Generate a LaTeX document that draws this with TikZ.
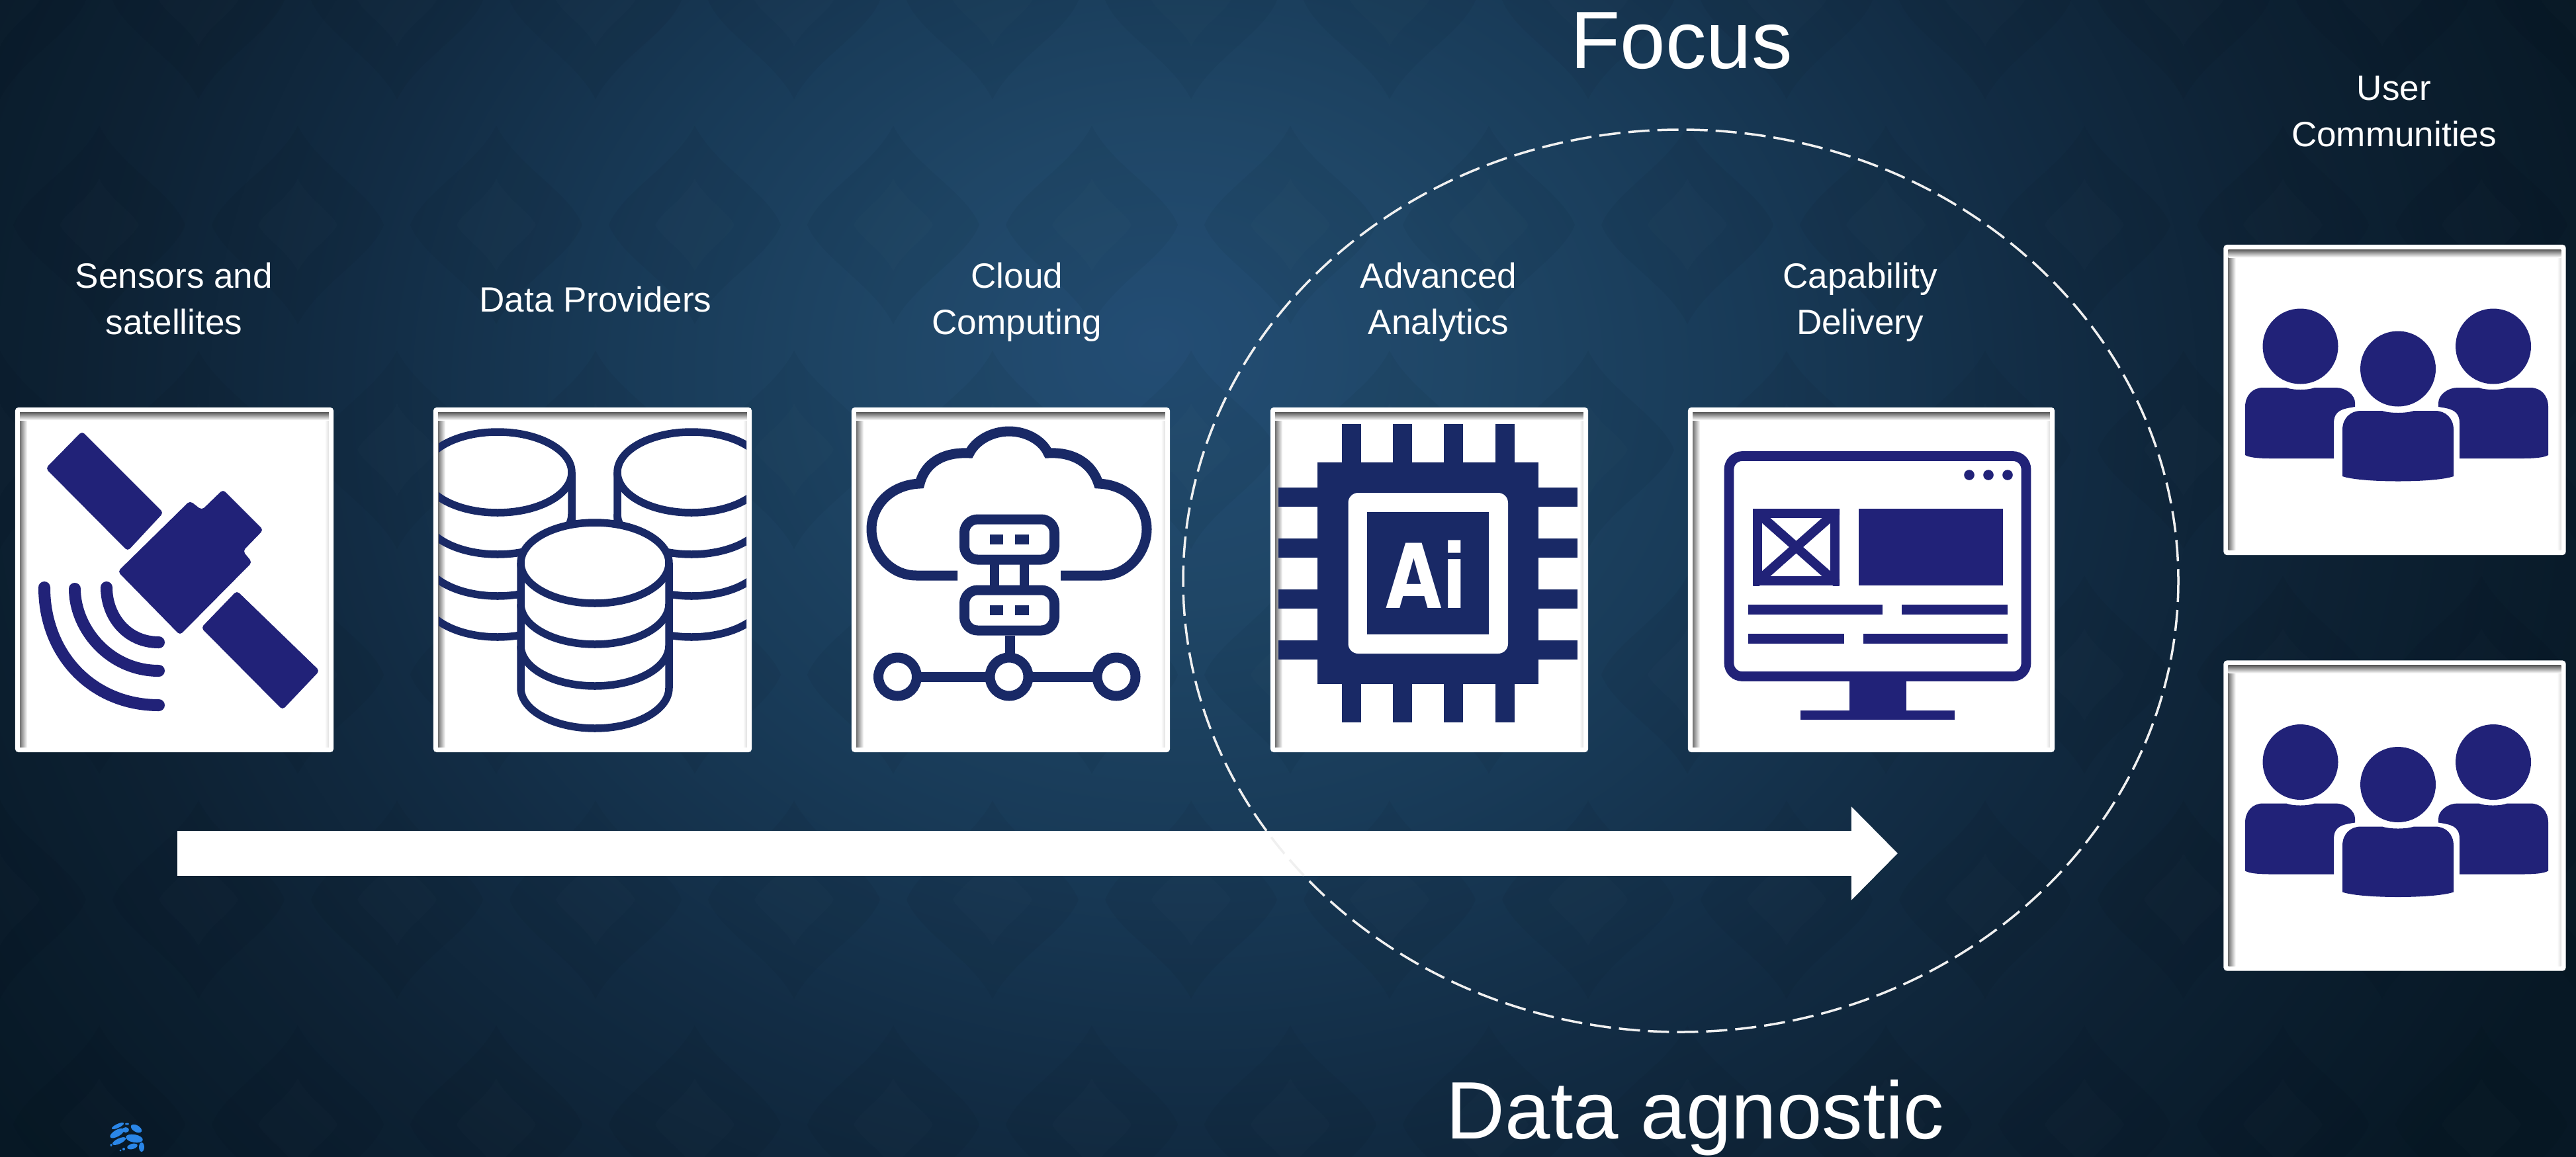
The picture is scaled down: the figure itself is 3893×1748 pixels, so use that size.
\documentclass[tikz,border=0pt]{standalone}
\usepackage{fontspec}
\setmainfont{Liberation Sans}
\newfontfamily\chipfont{DejaVu Sans}
\usepackage{xcolor}
\usetikzlibrary{arrows.meta}
\tikzset{>=latex}
\definecolor{navycol}{HTML}{192966}
\definecolor{indigocol}{HTML}{212278}
\definecolor{ringcol}{HTML}{F0F0F0}
\definecolor{logocol}{HTML}{2A86E8}
\definecolor{bgA}{HTML}{234D74}
\definecolor{bgB}{HTML}{1F4666}
\definecolor{bgC}{HTML}{183A57}
\definecolor{bgD}{HTML}{122C44}
\definecolor{bgE}{HTML}{0D2133}
\definecolor{bgF}{HTML}{071825}
\definecolor{bgG}{HTML}{051420}
\pgfdeclareradialshading{slidebg}{\pgfpoint{-2.3bp}{3.9bp}}{%
  color(0bp)=(bgA);color(5bp)=(bgB);color(10bp)=(bgC);%
  color(15bp)=(bgD);color(20bp)=(bgE);color(26bp)=(bgF);%
  color(50bp)=(bgG)}
\tikzstyle{iconcard}=[draw=none,fill=white,rounded corners=0.05cm,inner sep=0pt,minimum height=5.21cm]
\tikzstyle{cardlabel}=[white,align=center,inner sep=0pt,font=\fontsize{15.1}{19.9}\selectfont]
\tikzstyle{bigcaption}=[white,inner sep=0pt,font=\fontsize{35}{40}\selectfont]
\tikzstyle{dbline}=[navycol,line width=0.115cm]
\tikzstyle{cloudline}=[navycol,line width=0.15cm]
\tikzstyle{signal}=[indigocol,line width=0.18cm,line cap=round]
\tikzstyle{flowarrow}=[white,line width=0.68cm,-{Triangle[length=0.7cm,width=1.37cm]}]
\tikzstyle{focusring}=[ringcol,line width=0.035cm,dash pattern=on 0.32cm off 0.12cm]
\begin{document}
\begin{tikzpicture}[x=0.01cm,y=-0.01cm]
  \useasboundingbox (0,0) rectangle (3893,1748);
  \begin{scope}
    \clip (0,0) rectangle (3893,1748);
    \shade[shading=slidebg] (-200,-1000) rectangle (4093,2600);
    % faint wallpaper
    \foreach \row in {0,...,5} {
      \foreach \col in {0,...,13} {
        \pgfmathsetmacro{\mx}{\col*300+mod(\row,2)*150}
        \pgfmathsetmacro{\my}{\row*170*2}
        \begin{scope}[shift={(\mx,\my)}]
          \fill[black,opacity=0.04] (0,-150) .. controls (30,-90) and (110,-50) .. (130,0)
             .. controls (110,50) and (30,90) .. (0,150) .. controls (-30,90) and (-110,50) .. (-130,0)
             .. controls (-110,-50) and (-30,-90) .. (0,-150);
          \fill[white,opacity=0.012] (0,-70) .. controls (15,-40) and (50,-20) .. (60,0)
             .. controls (50,20) and (15,40) .. (0,70) .. controls (-15,40) and (-50,20) .. (-60,0)
             .. controls (-50,-20) and (-15,-40) .. (0,-70);
        \end{scope}
      }
    }
  \end{scope}

  % the cards
  \node[iconcard,minimum width=4.81cm] (satcard) at (263.5,876.5) {};
  \node[iconcard,minimum width=4.81cm] (dbcard) at (895.5,876.5) {};
  \node[iconcard,minimum width=4.81cm] (cloudcard) at (1527.5,876.5) {};
  \node[iconcard,minimum width=4.80cm] (aicard) at (2160,876.5) {};
  \node[iconcard,minimum width=5.54cm] (webcard) at (2828,876.5) {};
  \node[iconcard,minimum width=5.17cm,minimum height=4.69cm] (usercard) at (3619,604.5) {};
  \node[iconcard,minimum width=5.17cm,minimum height=4.69cm] (usercardb) at (3619,1233) {};
  \foreach \card in {satcard,dbcard,cloudcard,aicard,webcard,usercard,usercardb} {
    \shade[left color=black!55,right color=white] ([shift={(8,8)}]\card.north west) rectangle ([shift={(19,-8)}]\card.south west);
    \shade[left color=white,right color=black!12] ([shift={(-14,8)}]\card.north east) rectangle ([shift={(-8,-8)}]\card.south east);
    \shade[top color=black!65,bottom color=white] ([shift={(8,8)}]\card.north west) rectangle ([shift={(-8,20)}]\card.north east);
  }

  % satellite
  \begin{scope}[indigocol,rounded corners=0.05cm]
    \fill (124,652) -- (247,775) -- (193,833) -- (69,708) -- cycle;
    \fill (287,757) -- (305,771) -- (337,740) -- (398,801) -- (367,833) -- (381,850) -- (272,960) -- (178,864) -- cycle;
    \fill (358,893) -- (483,1014) -- (427,1073) -- (304,949) -- cycle;
  \end{scope}
  \draw[signal] (67,888) .. controls (67,990) and (140,1066) .. (240,1066);
  \draw[signal] (113,890) .. controls (113,950) and (165,1014) .. (240,1014);
  \draw[signal] (161,888) .. controls (161,930) and (190,971) .. (240,971);

  % databases
  \begin{scope}
    \clip (663,625) rectangle (1128,1130);
    \foreach \cx in {752,1045} {
      \draw[dbline] (\cx,714) ellipse (112 and 61);
      \draw[dbline] (\cx-112,714) -- (\cx-112,902) arc (180:0:112 and 61) -- (\cx+112,714);
      \foreach \yc in {777,840} {
        \draw[dbline] (\cx-112,\yc) arc (180:0:112 and 61);
      }
    }
    \fill[white] (787,851) -- (787,1040) arc (180:0:112 and 61) -- (1011,851) arc (360:180:112 and 61) -- cycle;
    \draw[dbline] (899,851) ellipse (112 and 61);
    \draw[dbline] (787,851) -- (787,1040) arc (180:0:112 and 61) -- (1011,851);
    \foreach \yc in {913,976} {
      \draw[dbline] (787,\yc) arc (180:0:112 and 61);
    }
  \end{scope}

  % cloud with servers
  \draw[cloudline] (1447,870) -- (1385,870) .. controls (1345,870) and (1317,835) .. (1317,800)
     .. controls (1317,765) and (1345,733) .. (1390,731) .. controls (1398,700) and (1425,683) .. (1465,685)
     .. controls (1475,665) and (1500,652) .. (1525,652) .. controls (1550,652) and (1575,665) .. (1584,685)
     .. controls (1622,683) and (1650,700) .. (1660,731) .. controls (1705,733) and (1733,765) .. (1733,800)
     .. controls (1733,835) and (1705,870) .. (1665,870) -- (1603,870);
  \foreach \sy in {785,892} {
    \draw[cloudline,rounded corners=0.2cm] (1457.5,\sy) rectangle (1593.5,\sy+61);
    \fill[navycol] (1496,\sy+23) rectangle (1516,\sy+38);
    \fill[navycol] (1534,\sy+23) rectangle (1555,\sy+38);
  }
  \fill[navycol] (1496,853) rectangle (1509.5,885);
  \fill[navycol] (1541,853) rectangle (1555,885);
  \draw[cloudline] (1526,961) -- (1526,995);
  \foreach \rx in {1356.5,1525,1687} {
    \draw[cloudline] (\rx,1023) circle (29);
  }
  \draw[cloudline] (1385.5,1023) -- (1496,1023) (1554,1023) -- (1658,1023);

  % chip
  \fill[navycol] (1991,699) rectangle (2325,1033.5);
  \foreach \px in {2027.5,2105,2182,2259.5} {
    \fill[navycol] (\px,640.5) rectangle (\px+29,699);
    \fill[navycol] (\px,1033.5) rectangle (\px+29,1092);
  }
  \foreach \py in {736.5,813.5,891,968} {
    \fill[navycol] (1932,\py) rectangle (1991,\py+29);
    \fill[navycol] (2325,\py) rectangle (2384,\py+29);
  }
  \fill[white,rounded corners=0.15cm] (2037.5,745) rectangle (2279,988);
  \fill[navycol] (2066,774) rectangle (2250,959);
  \node[white,inner sep=0pt,xscale=0.81,font=\chipfont\fontsize{38.4}{39}\selectfont\bfseries] (aimark) at (2156,868) {Ai};

  % monitor
  \draw[indigocol,line width=0.147cm,rounded corners=0.2cm] (2613,689.5) rectangle (3062,1022.5);
  \foreach \dotx in {2976,3005,3034} {
    \fill[indigocol] (\dotx,718) circle (7.8);
  }
  \begin{scope}
    \clip (2649,769) rectangle (2780,885);
    \draw[indigocol,line width=0.14cm] (2656,776) rectangle (2773,878);
    \draw[indigocol,line width=0.14cm] (2649,769) -- (2780,885) (2780,769) -- (2649,885);
  \end{scope}
  \fill[indigocol] (2809,769) rectangle (3027,885);
  \fill[indigocol] (2642,914) rectangle (2845,929);
  \fill[indigocol] (2874,914) rectangle (3034,929);
  \fill[indigocol] (2642,957.5) rectangle (2787,972.5);
  \fill[indigocol] (2816,957.5) rectangle (3034,972.5);
  \fill[indigocol] (2795,1029) rectangle (2881,1074);
  \fill[indigocol] (2721,1074) rectangle (2954,1088);

  % people, twice
  \foreach \dy in {0,628.5} {
    \begin{scope}[shift={(0,\dy)},indigocol]
      \fill (3476.5,523.5) circle (57);
      \fill (3768,523.5) circle (57);
      \fill (3624,557.5) circle (57);
      \fill (3393,688) -- (3393,615) .. controls (3393,598) and (3404,586) .. (3420,586) -- (3455,586)
         .. controls (3465,590) and (3488,590) .. (3498,586) -- (3530,586) .. controls (3545,586) and (3559,597) .. (3559,609)
         -- (3559,615) .. controls (3540,618) and (3527,620) .. (3527,640) -- (3527,693) -- (3432,693)
         .. controls (3415,693) and (3400,692) .. (3393,688) -- cycle;
      \fill (3851,688) -- (3851,615) .. controls (3851,598) and (3840,586) .. (3824,586) -- (3789,586)
         .. controls (3779,590) and (3756,590) .. (3746,586) -- (3714,586) .. controls (3699,586) and (3685,597) .. (3685,609)
         -- (3685,615) .. controls (3704,618) and (3717,620) .. (3717,640) -- (3717,693) -- (3812,693)
         .. controls (3829,693) and (3844,692) .. (3851,688) -- cycle;
      \fill (3540,720) -- (3540,650) .. controls (3540,632) and (3552,621) .. (3568,621) -- (3600,621)
         .. controls (3612,625) and (3636,625) .. (3648,621) -- (3680,621) .. controls (3696,621) and (3708,632) .. (3708,650)
         -- (3708,720) .. controls (3680,730) and (3568,730) .. (3540,720) -- cycle;
    \end{scope}
  }

  % arrow and dashed ring
  \coordinate (flowstart) at (268,1290);
  \coordinate (flowend) at (2868,1290);
  \draw[flowarrow] (flowstart) -- (flowend);
  \draw[focusring] (2540,878) ellipse (752 and 682);

  % labels
  \node[cardlabel] (satlabel) at (263,452) {Sensors and\\satellites};
  \node[cardlabel] (dblabel) at (900,453) {Data Providers};
  \node[cardlabel] (cloudlabel) at (1537,457) {Cloud\\Computing};
  \node[cardlabel] (ailabel) at (2174,457) {Advanced\\Analytics};
  \node[cardlabel] (weblabel) at (2811,457) {Capability\\Delivery};
  \node[cardlabel] (userlabel) at (3618,168) {User\\Communities};
  \node[bigcaption] (focuslabel) at (2541,62) {Focus};
  \node[bigcaption] (agnosticlabel) at (2562,1690) {Data agnostic};

  % small logo
  \foreach \bx/\by/\brx/\bry/\brot in {190/1708/5/4/0,206/1706/9/5/-30,178/1702/10/3/25,177/1713/12/5/30,
      203/1721/13/6/-10,180/1725/11/4/25,200/1733/8/4/15,214/1734/4/7/0,192/1699/3/1.5/0,
      187/1737/2/2/0,168/1731/1.5/2/0,182/1739/1.5/1.5/0} {
    \fill[logocol,rotate around={\brot:(\bx,\by)}] (\bx,\by) ellipse [x radius=\brx,y radius=\bry];
  }
\end{tikzpicture}
\end{document}
